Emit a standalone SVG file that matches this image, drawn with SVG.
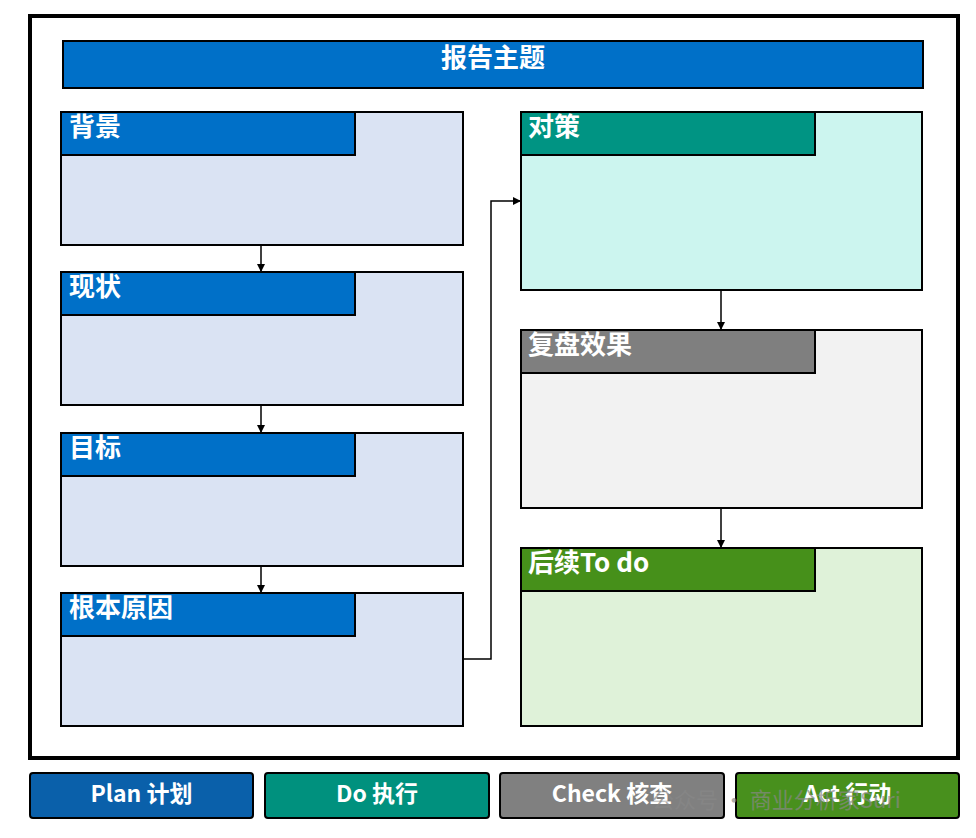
<svg xmlns="http://www.w3.org/2000/svg" width="976" height="838" viewBox="0 0 976 838">
<defs>
<style>
.hdr{font-family:"Noto Sans CJK SC","Liberation Sans",sans-serif;font-weight:bold;font-size:26px;fill:#fff}
.leg{font-family:"Noto Sans CJK SC","Liberation Sans",sans-serif;font-weight:bold;font-size:23px;fill:#fff;text-anchor:middle}
.box{stroke:#000;stroke-width:2}
.conn{fill:none;stroke:#000;stroke-width:1.5}
</style>
<marker id="ah" markerWidth="8" markerHeight="8" refX="7" refY="4" orient="auto" markerUnits="userSpaceOnUse">
<path d="M0,0 L8,4 L0,8 z" fill="#000"/>
</marker>
</defs>
<rect width="976" height="838" fill="#fff"/>
<rect x="30" y="16" width="928" height="742" fill="#fff" stroke="#000" stroke-width="4"/>

<g id="title">
<rect x="63" y="41" width="860" height="47" fill="#0070C8" class="box"/>
<text x="493" y="67" class="hdr" font-size="27" text-anchor="middle">报告主题</text>
</g>

<g id="n-bg">
<rect x="61" y="112" width="402" height="133" fill="#DAE3F3" class="box"/>
<rect x="61" y="112" width="294" height="43" fill="#0070C8" class="box"/>
<text x="69" y="136" class="hdr">背景</text>
</g>
<g id="n-xz">
<rect x="61" y="272" width="402" height="133" fill="#DAE3F3" class="box"/>
<rect x="61" y="272" width="294" height="43" fill="#0070C8" class="box"/>
<text x="69" y="296" class="hdr">现状</text>
</g>
<g id="n-mb">
<rect x="61" y="433" width="402" height="133" fill="#DAE3F3" class="box"/>
<rect x="61" y="433" width="294" height="43" fill="#0070C8" class="box"/>
<text x="69" y="457" class="hdr">目标</text>
</g>
<g id="n-gb">
<rect x="61" y="593" width="402" height="133" fill="#DAE3F3" class="box"/>
<rect x="61" y="593" width="294" height="43" fill="#0070C8" class="box"/>
<text x="69" y="617" class="hdr">根本原因</text>
</g>

<g id="n-dc">
<rect x="521" y="112" width="401" height="178" fill="#CCF5EF" class="box"/>
<rect x="521" y="112" width="294" height="43" fill="#009483" class="box"/>
<text x="528" y="136" class="hdr">对策</text>
</g>
<g id="n-fp">
<rect x="521" y="330" width="401" height="178" fill="#F2F2F2" class="box"/>
<rect x="521" y="330" width="294" height="43" fill="#7F7F7F" class="box"/>
<text x="528" y="354" class="hdr">复盘效果</text>
</g>
<g id="n-hx">
<rect x="521" y="548" width="401" height="178" fill="#DFF2D9" class="box"/>
<rect x="521" y="548" width="294" height="43" fill="#46901A" class="box"/>
<text x="528" y="572" class="hdr">后续To do</text>
</g>

<g id="connectors">
<line x1="261" y1="246" x2="261" y2="271" class="conn" marker-end="url(#ah)"/>
<line x1="261" y1="406" x2="261" y2="432" class="conn" marker-end="url(#ah)"/>
<line x1="261" y1="567" x2="261" y2="592" class="conn" marker-end="url(#ah)"/>
<polyline points="464,659 491,659 491,201 520,201" class="conn" marker-end="url(#ah)"/>
<line x1="721" y1="291" x2="721" y2="329" class="conn" marker-end="url(#ah)"/>
<line x1="721" y1="509" x2="721" y2="547" class="conn" marker-end="url(#ah)"/>
</g>

<g id="legend-plan">
<rect x="30" y="773" width="223" height="45" rx="3" fill="#0A60AA" class="box"/>
<text x="141.5" y="802" class="leg">Plan 计划</text>
</g>
<g id="legend-do">
<rect x="265" y="773" width="224" height="45" rx="3" fill="#00917E" class="box"/>
<text x="377" y="802" class="leg">Do 执行</text>
</g>
<g id="legend-check">
<rect x="500" y="773" width="224" height="45" rx="3" fill="#808080" class="box"/>
<text x="612" y="802" class="leg">Check 核查</text>
</g>
<g id="legend-act">
<rect x="736" y="773" width="223" height="45" rx="3" fill="#48901D" class="box"/>
<text x="847.5" y="802" class="leg">Act 行动</text>
</g>

<text x="652" y="808" font-family="Noto Sans CJK SC, sans-serif" font-size="22" fill="#888" fill-opacity="0.7">公众号 · 商业分析家Suri</text>
</svg>
